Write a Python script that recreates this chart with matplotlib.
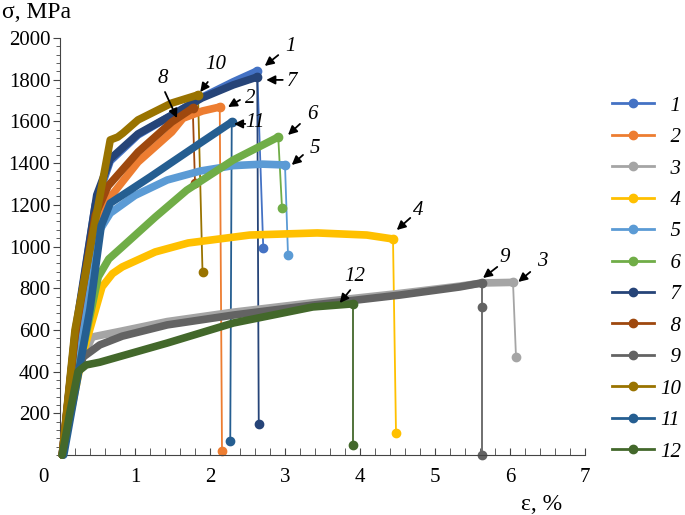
import numpy as np
import matplotlib
matplotlib.use('Agg')
import matplotlib.pyplot as plt
import matplotlib.transforms as mtrans
from matplotlib.lines import Line2D

plt.rcParams['font.family'] = ['Liberation Serif', 'DejaVu Serif']

# curvas tensao-deformacao (antes da rotura)
eps1 = [0.03, 0.20, 0.47, 0.67, 1.04, 1.49, 1.89, 2.31, 2.63]
sig1 = [0, 560, 1200, 1410, 1535, 1630, 1715, 1790, 1842]
eps2 = [0.03, 0.20, 0.45, 0.67, 1.04, 1.49, 1.64, 1.90, 2.13]
sig2 = [0, 560, 1100, 1237, 1405, 1549, 1615, 1650, 1669]
eps3 = [0.03, 0.25, 0.43, 0.83, 1.43, 2.31, 3.37, 4.53, 5.33, 5.63, 6.04]
sig3 = [0, 430, 566, 595, 640, 685, 730, 775, 810, 825, 828]
eps4 = [0.03, 0.30, 0.56, 0.70, 0.83, 1.27, 1.71, 2.53, 3.43, 4.09, 4.44]
sig4 = [0, 480, 806, 870, 902, 974, 1017, 1055, 1065, 1055, 1036]
eps5 = [0.03, 0.25, 0.53, 0.67, 1.00, 1.43, 1.87, 2.31, 2.70, 3.00]
sig5 = [0, 520, 1079, 1160, 1245, 1319, 1362, 1388, 1395, 1391]
eps6 = [0.03, 0.30, 0.51, 0.65, 0.83, 1.27, 1.69, 2.31, 2.91]
sig6 = [0, 500, 854, 940, 998, 1141, 1270, 1415, 1525]
eps7 = [0.03, 0.20, 0.49, 0.67, 1.04, 1.49, 1.89, 2.31, 2.63]
sig7 = [0, 580, 1247, 1420, 1540, 1630, 1712, 1775, 1813]
eps8 = [0.03, 0.20, 0.47, 0.64, 1.04, 1.49, 1.77]
sig8 = [0, 570, 1150, 1290, 1453, 1597, 1664]
eps9 = [0.03, 0.20, 0.31, 0.53, 0.83, 1.43, 2.31, 3.37, 4.53, 5.33, 5.62]
sig9 = [0, 360, 470, 528, 570, 624, 671, 719, 767, 806, 825]
eps10 = [0.03, 0.20, 0.51, 0.67, 0.77, 0.84, 1.04, 1.49, 1.84]
sig10 = [0, 600, 1199, 1511, 1525, 1544, 1607, 1688, 1727]
eps11 = [0.05, 0.25, 0.40, 0.55, 0.67, 1.20, 1.87, 2.29]
sig11 = [0, 400, 700, 1100, 1208, 1333, 1496, 1597]
eps12 = [0.03, 0.13, 0.24, 0.35, 0.53, 1.43, 2.31, 3.37, 3.91]
sig12 = [0, 200, 400, 432, 445, 537, 633, 710, 725]

# queda na rotura (do pico ao ultimo ponto)
drop_eps = [[2.63, 2.71], [2.13, 2.16], [6.04, 6.08], [4.44, 4.48], [3.00, 3.04], [2.91, 2.96],
            [2.63, 2.65], [1.77, 1.80], [5.62, 5.62, 5.62], [1.84, 1.90], [2.29, 2.27], [3.91, 3.91]]
drop_sig = [[1842, 993], [1669, 19], [828, 470], [1036, 106], [1391, 959], [1525, 1185],
            [1813, 149], [1664, 1304], [825, 710, 0], [1727, 880], [1597, 67], [725, 50]]

curvas_eps = [eps1, eps2, eps3, eps4, eps5, eps6, eps7, eps8, eps9, eps10, eps11, eps12]
curvas_sig = [sig1, sig2, sig3, sig4, sig5, sig6, sig7, sig8, sig9, sig10, sig11, sig12]
labels = ['1', '2', '3', '4', '5', '6', '7', '8', '9', '10', '11', '12']
cores = ['#4472C4', '#ED7D31', '#A5A5A5', '#FFC000', '#5B9BD5', '#70AD47',
         '#264478', '#9E480E', '#636363', '#997300', '#255E91', '#43682B']

# setas com numeros: (texto, seta inicio, seta fim)
notas_txt = [(3.07, 1957), (2.53, 1712), (6.43, 926), (4.77, 1175), (3.40, 1472), (3.37, 1631),
             (3.09, 1789), (1.37, 1808), (5.93, 945), (2.07, 1871), (2.60, 1597), (3.93, 854)]
notas_ini = [(2.91, 1918), (2.40, 1703), (6.27, 878), (4.67, 1137), (3.24, 1439), (3.20, 1588),
             (2.97, 1799), (1.40, 1741), (5.83, 902), (1.97, 1789), (2.47, 1588), (3.87, 791)]
notas_fim = [(2.73, 1866), (2.24, 1669), (6.11, 830), (4.49, 1079), (3.09, 1391), (3.04, 1535),
             (2.75, 1799), (1.56, 1616), (5.64, 849), (1.87, 1741), (2.32, 1588), (3.73, 729)]

fig = plt.figure(figsize=(6.85, 5.15), dpi=100)
ax = fig.add_axes([60 / 685, 60 / 515, 525 / 685, 417 / 515])

for e, s, de, ds, c in zip(curvas_eps, curvas_sig, drop_eps, drop_sig, cores):
    ax.plot(de, ds, color=c, lw=1.3, zorder=2, clip_on=False)
    ax.plot(de[1:], ds[1:], 'o', color=c, ms=6, zorder=2, clip_on=False)
    ax.plot(e, s, color=c, lw=5.5, solid_capstyle='round', solid_joinstyle='round', zorder=3, clip_on=False)
    ax.plot(e[-1], s[-1], 'o', color=c, ms=6, zorder=3)

for lab, t, a, b in zip(labels, notas_txt, notas_ini, notas_fim):
    ax.annotate('', xy=b, xytext=a,
                arrowprops=dict(arrowstyle='-|>', color='black', lw=1.3, mutation_scale=13,
                                shrinkA=0, shrinkB=0), zorder=5)
    ax.text(t[0], t[1], lab, fontsize=15, style='italic', ha='center', va='center', zorder=5)

ax.set_xlim(0, 7)
ax.set_ylim(0, 2000)
ax.spines['top'].set_visible(False)
ax.spines['right'].set_visible(False)
ax.spines['left'].set_color('#444444')
ax.spines['bottom'].set_color('#444444')
ax.set_xticks(np.arange(0, 8, 1))
ax.set_xticks(np.arange(0, 7.01, 0.2), minor=True)
ax.set_yticks(np.arange(200, 2001, 200))
ax.set_yticks(np.arange(0, 2001, 40), minor=True)
ax.tick_params(axis='x', which='both', direction='in', length=5, color='#444444', labelsize=15, pad=9)
ax.tick_params(axis='y', which='major', direction='out', length=5, color='#444444', labelsize=15, pad=2)
ax.tick_params(axis='y', which='minor', direction='out', length=3, color='#444444')

# o "0" do eixo x fica deslocado para a esquerda
lbl0 = ax.get_xticklabels()[0]
lbl0.set_transform(lbl0.get_transform() + mtrans.ScaledTranslation(-17 / 100, 0, fig.dpi_scale_trans))

fig.text(2 / 685, 1 - 13 / 515, 'σ, MPa', fontsize=17, ha='left', va='center')
fig.text(562 / 685, 1 - 505 / 515, 'ε, %', fontsize=17, ha='right', va='center')

# legenda
handles = [Line2D([0], [0], color=c, lw=2, marker='o', ms=6) for c in cores]
leg_labels = [('  ' + l) if len(l) == 1 else l for l in labels]
leg = fig.legend(handles, leg_labels, loc='upper left', bbox_to_anchor=(612 / 685, 1 - 96 / 515),
                 frameon=False, handlelength=2.0, handletextpad=0.3, labelspacing=0.57,
                 borderpad=0, borderaxespad=0, prop={'style': 'italic', 'size': 15})

fig.savefig('out.png', dpi=100)
